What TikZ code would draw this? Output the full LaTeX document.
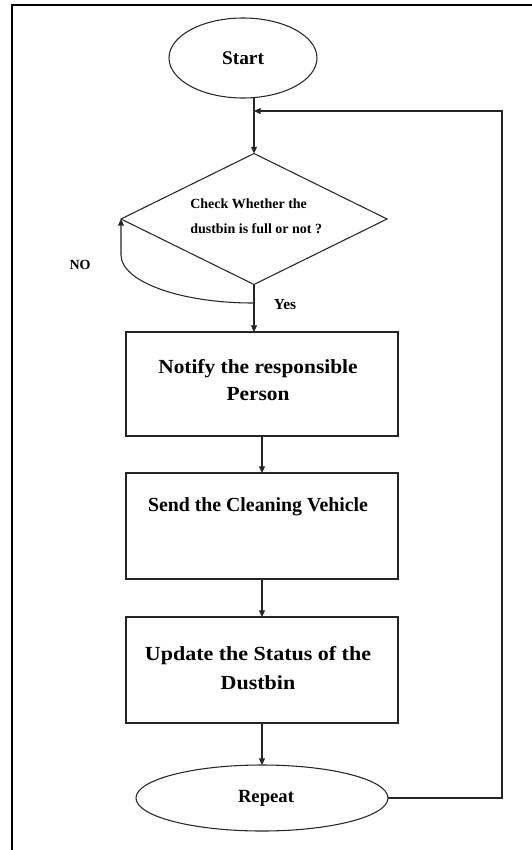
\documentclass[tikz,border=0pt]{standalone}
\usepackage{fontspec}
\setmainfont{Liberation Serif}
\newfontfamily\wideA[FakeStretch=1.07]{Liberation Serif}
\newfontfamily\wideB[FakeStretch=0.99]{Liberation Serif}
\newfontfamily\wideC[FakeStretch=1.10]{Liberation Serif}
\usetikzlibrary{shapes.geometric,arrows.meta}
\begin{document}
\begin{tikzpicture}[x=0.75pt,y=-0.75pt,
  line/.style={draw=black!85, line width=0.8pt},
  arr/.style={line, -{Triangle[length=5pt,width=4.5pt]}},
  frame/.style={draw=black, line width=1.6pt},
  term/.style={ellipse, line, inner sep=0pt, outer sep=0pt},
  procbox/.style={rectangle, line, inner sep=0pt, outer sep=0pt, minimum width=204pt},
  txt/.style={inner sep=0pt, align=center}
]
\useasboundingbox (0,0) rectangle (532,850);
% frame
\draw[frame] (12,850) |- (532,5);

% shapes
\node[term, minimum width=111pt, minimum height=60pt, font=\bfseries\fontsize{14.5}{17}\selectfont] (start) at (243,58) {Start};
\node[diamond, line, inner sep=0pt, outer sep=0pt, minimum width=199.5pt, minimum height=98.25pt] (dia) at (254,219) {};
\node[inner sep=0pt, anchor=west, align=left, font=\bfseries\fontsize{10.5}{18.5}\selectfont] (diatxt) at (190,216) {Check Whether the\\dustbin is full or not ?};

\node[procbox, minimum height=78pt] (box1) at (262,384) {};
\node[txt, font=\wideA\bfseries\fontsize{15}{20}\selectfont] (t1) at (258,380) {Notify the responsible\\Person};

\node[procbox, minimum height=79.5pt] (box2) at (262,526) {};
\node[txt, font=\wideB\bfseries\fontsize{15}{20}\selectfont] (t2) at (258,507) {Send the Cleaning Vehicle};

\node[procbox, minimum height=79.5pt] (box3) at (262,670) {};
\node[txt, font=\wideC\bfseries\fontsize{15}{21.5}\selectfont] (t3) at (258,668) {Update the Status of the\\Dustbin};

\node[term, minimum width=189pt, minimum height=49.5pt] (rep) at (262,798) {};
\node[txt, font=\bfseries\fontsize{14}{17}\selectfont] (t4) at (266,798) {Repeat};

\node[inner sep=0pt, font=\bfseries\fontsize{10.5}{12}\selectfont] (no) at (80,265) {NO};
\node[inner sep=0pt, font=\bfseries\fontsize{11.5}{12}\selectfont] (yes) at (285,305) {Yes};

% coordinates
\coordinate (fb) at (502,111);
\coordinate (noc) at (253,303);

% connectors
\draw[arr] (start.south -| dia.north) -- (dia.north);
\draw[arr] (rep.east) -| (fb) -- (dia.north |- fb);
\draw[arr] (dia.south) -- (dia.south |- box1.north);
\draw[arr] (noc) .. controls (180,303) and (121,281.5) .. (121,255) -- (dia.west);
\draw[arr] (box1.south) -- (box2.north);
\draw[arr] (box2.south) -- (box3.north);
\draw[arr] (box3.south) -- (rep.north);
\end{tikzpicture}
\end{document}
